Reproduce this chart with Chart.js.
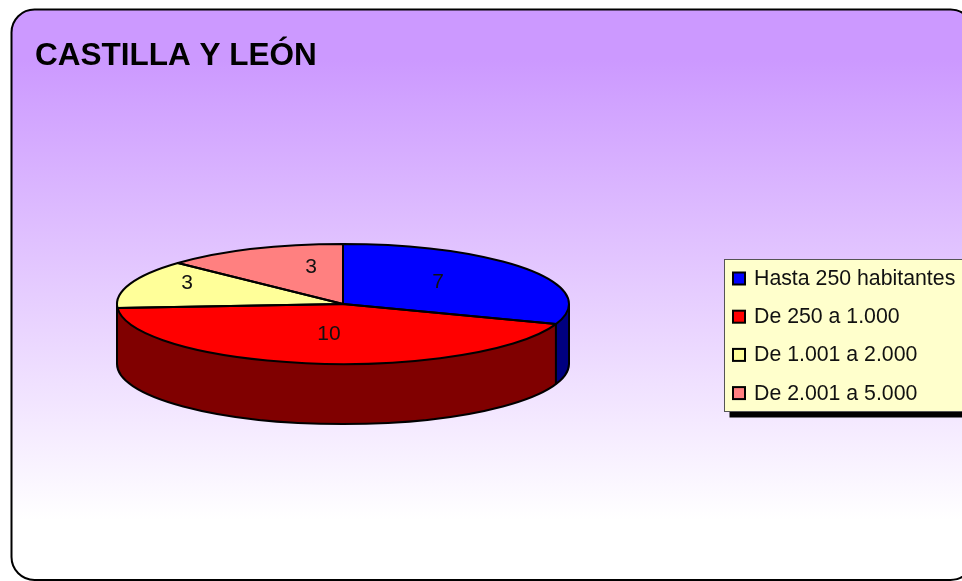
<!DOCTYPE html>
<html>
<head>
<meta charset="utf-8">
<style>html,body{margin:0;padding:0;background:#fff;overflow:hidden}canvas{display:block}</style>
<script src="https://cdn.jsdelivr.net/npm/chart.js@4"></script>
</head>
<body>
<canvas id="c" width="962" height="581"></canvas>
<script>
const chartTitle = 'CASTILLA Y LEÓN';
const categories = ['Hasta 250 habitantes', 'De 250 a 1.000', 'De 1.001 a 2.000', 'De 2.001 a 5.000'];
const values = [7, 10, 3, 3];
const topColors = ['#0000FF', '#FF0000', '#FFFF99', '#FF8080'];
const sideColors = ['#000080', '#800000', '#808040', '#804040'];

const FONT = '"Liberation Sans", Arial, sans-serif';
const SQUASH = 60 / 226;
const DEPTH = 60;
// Hand-placed value labels in the reference: offset from the pie centre
const labelOffsets = [[95, -23], [-14, 29], [-156, -22], [-32, -38]];

function roundedPath(ctx, x, y, w, h, r) {
  ctx.beginPath();
  ctx.roundRect(x, y, w, h, r);
}
function squash(ctx, el, dy) {
  ctx.translate(el.x, el.y + dy);
  ctx.scale(1, SQUASH);
  ctx.translate(-el.x, -el.y);
}

const pie3d = {
  id: 'pie3d',
  beforeDraw(chart) {
    const ctx = chart.ctx;
    ctx.save();
    ctx.fillStyle = '#fff';
    ctx.fillRect(0, 0, chart.width, chart.height);
    const g = ctx.createLinearGradient(0, 60, 0, 520);
    g.addColorStop(0, '#CC99FF');
    g.addColorStop(1, '#FFFFFF');
    roundedPath(ctx, 11.5, 9.5, 962, 570.5, 23);
    ctx.fillStyle = g;
    ctx.fill();
    ctx.lineWidth = 2;
    ctx.strokeStyle = '#000';
    ctx.stroke();
    ctx.fillStyle = '#000';
    ctx.font = 'bold 31.5px ' + FONT;
    ctx.textAlign = 'left';
    ctx.textBaseline = 'alphabetic';
    ctx.fillText(chartTitle, 35, 65);
    ctx.restore();
  },
  beforeDatasetsDraw(chart) {
    const ctx = chart.ctx;
    const arcs = chart.getDatasetMeta(0).data;
    for (let d = DEPTH; d >= 1; d--) {
      arcs.forEach((el, i) => {
        const base = el.options;
        el.options = Object.create(base, { backgroundColor: { value: sideColors[i] } });
        ctx.save();
        squash(ctx, el, d);
        el.draw(ctx);
        ctx.restore();
        el.options = base;
      });
    }
    ctx.save();
    squash(ctx, arcs[0], 0);
  },
  afterDatasetsDraw(chart) {
    const ctx = chart.ctx;
    ctx.restore();
    const arcs = chart.getDatasetMeta(0).data;
    const a0 = arcs[0];
    const cx = a0.x, cy = a0.y, rx = a0.outerRadius, ry = rx * SQUASH;
    ctx.save();
    ctx.strokeStyle = '#000';
    ctx.lineWidth = 2;
    ctx.lineJoin = 'round';
    // body silhouette: lower rim and the two outer verticals
    ctx.beginPath();
    ctx.moveTo(cx + rx, cy);
    ctx.lineTo(cx + rx, cy + DEPTH);
    ctx.ellipse(cx, cy + DEPTH, rx, ry, 0, 0, Math.PI);
    ctx.lineTo(cx - rx, cy);
    ctx.stroke();
    // visible side seam where the first slice meets the second
    const seam = arcs[0].endAngle;
    const sx = cx + rx * Math.cos(seam), sy = cy + ry * Math.sin(seam);
    ctx.beginPath();
    ctx.moveTo(sx, sy);
    ctx.lineTo(sx, sy + DEPTH);
    ctx.stroke();
    // slice outlines on the top face
    arcs.forEach(el => {
      ctx.beginPath();
      ctx.moveTo(cx, cy);
      ctx.ellipse(cx, cy, rx, ry, 0, el.startAngle, el.endAngle);
      ctx.closePath();
      ctx.stroke();
    });
    // value labels
    ctx.fillStyle = '#111';
    ctx.font = '21px ' + FONT;
    ctx.textAlign = 'center';
    ctx.textBaseline = 'middle';
    values.forEach((v, i) => {
      ctx.fillText(String(v), cx + labelOffsets[i][0], cy + labelOffsets[i][1] + 1);
    });
    ctx.restore();
    // legend
    const lx = 724.5, ly = 259.5, lw = 260, lh = 152;
    ctx.save();
    ctx.fillStyle = '#000';
    ctx.fillRect(lx + 5, ly + lh, lw, 6);
    ctx.fillStyle = '#FFFFCC';
    ctx.fillRect(lx, ly, lw, lh);
    ctx.strokeStyle = '#555';
    ctx.lineWidth = 1;
    ctx.strokeRect(lx, ly, lw, lh);
    ctx.font = '21.3px ' + FONT;
    ctx.textAlign = 'left';
    ctx.textBaseline = 'alphabetic';
    categories.forEach((name, i) => {
      const y = 278 + i * 38.2;
      ctx.fillStyle = topColors[i];
      ctx.fillRect(733, y - 5.5, 12, 12);
      ctx.strokeStyle = '#000';
      ctx.lineWidth = 2;
      ctx.strokeRect(733, y - 5.5, 12, 12);
      ctx.fillStyle = '#111';
      ctx.fillText(name, 754, y + 7);
    });
    ctx.restore();
  }
};

new Chart(document.getElementById('c'), {
  type: 'pie',
  data: {
    labels: categories,
    datasets: [{
      data: values,
      backgroundColor: topColors,
      borderWidth: 0,
      clip: false
    }]
  },
  options: {
    responsive: false,
    animation: false,
    layout: { padding: { left: 117, right: 393, top: 78, bottom: 51 } },
    plugins: { legend: { display: false }, tooltip: { enabled: false }, title: { display: false } }
  },
  plugins: [pie3d]
});
</script>
</body>
</html>
